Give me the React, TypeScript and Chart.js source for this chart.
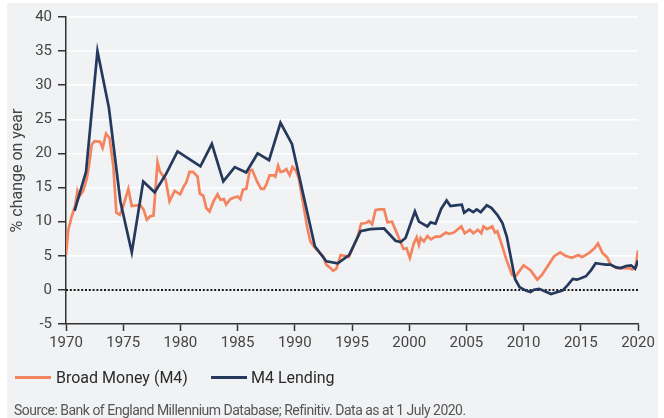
import { useEffect, useRef } from "react";
import { Chart, registerables } from "chart.js";

Chart.register(...registerables);

const FONT = 'Roboto, "Noto Sans", "Liberation Sans", sans-serif';

const seriesNames = ["Broad Money (M4)", "M4 Lending"];

const moneyYears = [
  1970.0, 1970.2, 1970.5, 1970.8, 1971.0, 1971.17, 1971.5, 1971.8, 1972.0, 1972.25,
  1972.5, 1972.98, 1973.2, 1973.5, 1973.8, 1974.14, 1974.4, 1974.7, 1975.0, 1975.45,
  1975.75, 1976.2, 1976.5, 1976.77, 1977.07, 1977.36, 1977.65, 1978.0, 1978.2, 1978.7,
  1979.05, 1979.5, 1979.98, 1980.27, 1980.5, 1980.8, 1981.1, 1981.5, 1981.7, 1982.0,
  1982.26, 1982.55, 1982.9, 1983.25, 1983.5, 1983.8, 1984.0, 1984.36, 1984.65, 1985.0,
  1985.24, 1985.47, 1985.76, 1986.06, 1986.27, 1986.7, 1987.05, 1987.3, 1987.5, 1987.8,
  1988.15, 1988.3, 1988.54, 1988.74, 1989.03, 1989.26, 1989.55, 1989.8, 1990.1, 1990.34,
  1990.7, 1991.07, 1991.36, 1991.8, 1992.2, 1992.5, 1992.75, 1993.05, 1993.35, 1993.64,
  1994.0, 1994.34, 1994.72, 1995.0, 1995.45, 1995.8, 1996.2, 1996.47, 1996.76, 1997.05,
  1997.35, 1997.8, 1998.1, 1998.5, 1998.8, 1999.1, 1999.5, 1999.77, 2000.06, 2000.4,
  2000.65, 2000.85, 2001.0, 2001.28, 2001.6, 2001.9, 2002.3, 2002.7, 2003.2, 2003.5,
  2003.9, 2004.56, 2004.85, 2005.3, 2005.6, 2006.0, 2006.3, 2006.5, 2006.8, 2007.25,
  2007.5, 2007.7, 2008.1, 2008.5, 2009.0, 2009.3, 2010.0, 2010.6, 2011.2, 2011.6,
  2012.07, 2012.65, 2013.2, 2013.65, 2014.2, 2014.8, 2015.1, 2015.7, 2016.2, 2016.5,
  2016.9, 2017.3, 2017.6, 2018.2, 2018.8, 2019.2, 2019.5, 2019.8, 2020.0,
];
const moneyValues = [
  5.1, 8.8, 10.8, 12.3, 14.5, 13.7, 14.5, 16.2, 18.1, 21.3,
  21.8, 21.7, 20.8, 22.9, 22.3, 18.1, 11.3, 11.0, 12.3, 14.8,
  12.3, 12.4, 12.4, 11.8, 10.3, 10.8, 10.9, 18.7, 17.4, 16.2,
  13.0, 14.5, 14.0, 15.1, 15.7, 17.3, 17.3, 16.6, 14.1, 13.8,
  12.0, 11.5, 13.0, 14.0, 13.2, 13.3, 12.5, 13.3, 13.5, 13.7,
  13.3, 14.7, 14.8, 17.5, 17.6, 15.9, 14.8, 14.8, 15.4, 16.8,
  16.8, 16.6, 18.2, 17.3, 17.4, 17.7, 16.8, 18.0, 17.5, 16.4,
  13.0, 9.3, 7.1, 6.1, 5.4, 4.9, 3.7, 3.3, 2.8, 3.1,
  5.1, 5.0, 4.8, 5.9, 7.6, 9.7, 9.8, 10.1, 9.6, 11.7,
  11.8, 11.8, 9.9, 10.0, 8.8, 7.6, 6.0, 6.1, 4.7, 6.8,
  7.7, 6.6, 7.6, 7.1, 7.9, 7.4, 7.8, 7.8, 8.4, 8.2,
  8.4, 9.3, 8.3, 8.8, 8.3, 8.8, 8.3, 9.3, 8.9, 9.3,
  8.4, 8.6, 6.6, 4.4, 2.2, 2.0, 3.6, 2.9, 1.5, 2.2,
  3.4, 4.9, 5.5, 5.0, 4.7, 5.1, 4.8, 5.4, 6.1, 6.8,
  5.4, 4.8, 3.7, 3.2, 3.2, 3.2, 3.0, 3.4, 5.8,
];

const lendingYears = [
  1970.75, 1971.75, 1972.75, 1973.75, 1974.75, 1975.75, 1976.75, 1977.75, 1978.75, 1979.75,
  1980.75, 1981.75, 1982.75, 1983.75, 1984.75, 1985.75, 1986.75, 1987.75, 1988.75, 1989.75,
  1990.75, 1991.75, 1992.75, 1993.75, 1994.75, 1995.75, 1996.6, 1997.8, 1998.8, 1999.25,
  1999.68, 2000.5, 2000.85, 2001.59, 2001.87, 2002.3, 2002.8, 2003.27, 2003.6, 2004.06,
  2004.6, 2004.8, 2005.2, 2005.6, 2005.9, 2006.25, 2006.78, 2007.2, 2007.7, 2008.15,
  2008.53, 2008.88, 2009.25, 2009.65, 2010.2, 2010.6, 2010.9, 2011.36, 2011.8, 2012.4,
  2012.97, 2013.4, 2013.85, 2014.3, 2014.66, 2015.0, 2015.45, 2015.9, 2016.3, 2016.77,
  2017.2, 2017.6, 2018.07, 2018.5, 2018.95, 2019.4, 2019.75, 2020.0,
];
const lendingValues = [
  11.6, 17.3, 35.0, 26.7, 13.0, 5.5, 15.9, 14.3, 17.0, 20.3,
  19.2, 18.1, 21.4, 15.9, 18.0, 17.2, 20.0, 19.0, 24.5, 21.4,
  13.9, 6.4, 4.2, 3.9, 5.1, 8.6, 8.9, 9.0, 7.2, 7.0,
  7.6, 11.5, 10.0, 9.3, 9.9, 9.7, 11.9, 13.1, 12.3, 12.4,
  12.5, 11.3, 11.8, 11.4, 11.8, 11.4, 12.4, 12.0, 11.0, 9.8,
  7.8, 4.8, 1.6, 0.4, -0.1, -0.3, 0.0, 0.15, -0.15, -0.6,
  -0.3, -0.1, 0.7, 1.6, 1.5, 1.7, 2.0, 2.9, 3.9, 3.8,
  3.7, 3.7, 3.3, 3.2, 3.5, 3.6, 3.1, 4.3,
];

const xMin = 1970;
const xMax = 2020;
const xStep = 5;
const yMin = -5;
const yMax = 40;
const yStep = 5;
const yTitle = "% change on year";
const sourceText = "Source: Bank of England Millennium Database; Refinitiv. Data as at 1 July 2020.";

const ORANGE = "#f4845f";
const NAVY = "#24395c";

export default function App() {
  const ref = useRef<HTMLCanvasElement>(null);

  useEffect(() => {
    const canvas = ref.current;
    if (!canvas) return;
    const zeroLine = {
      id: "zeroLine",
      beforeDatasetsDraw(chart: any) {
        const { ctx, chartArea, scales } = chart;
        const y = Math.round(scales.y.getPixelForValue(0));
        ctx.save();
        ctx.strokeStyle = "#1a1a1a";
        ctx.lineWidth = 2;
        ctx.setLineDash([2, 1.8]);
        ctx.beginPath();
        ctx.moveTo(chartArea.left, y);
        ctx.lineTo(chartArea.right, y);
        ctx.stroke();
        ctx.restore();
      },
    };
    const chart = new Chart(canvas, {
      type: "line",
      data: {
        datasets: [
          {
            label: seriesNames[0],
            data: moneyYears.map((x, i) => ({ x, y: moneyValues[i] })),
            borderColor: ORANGE,
            backgroundColor: ORANGE,
            borderWidth: 2.7,
            pointRadius: 0,
            tension: 0,
            order: 1,
          },
          {
            label: seriesNames[1],
            data: lendingYears.map((x, i) => ({ x, y: lendingValues[i] })),
            borderColor: NAVY,
            backgroundColor: NAVY,
            borderWidth: 2.7,
            pointRadius: 0,
            tension: 0,
            order: 0,
          },
        ],
      },
      options: {
        animation: false,
        responsive: false,
        maintainAspectRatio: false,
        layout: { padding: { left: 0, top: 17, right: 26, bottom: 64 } },
        plugins: {
          legend: { display: false },
          tooltip: { enabled: false },
        },
        scales: {
          x: {
            type: "linear",
            min: xMin,
            max: xMax,
            afterFit: (s: any) => {
              s.height = 30;
            },
            ticks: {
              stepSize: xStep,
              padding: 3,
              color: "#444",
              font: { family: FONT, size: 15 },
              maxRotation: 0,
              callback: (v: any) => String(v),
            },
            grid: {
              drawOnChartArea: false,
              drawTicks: true,
              tickLength: 7,
              tickColor: "#333",
              tickWidth: 1.5,
            },
            border: { color: "#333", width: 1.5 },
          },
          y: {
            min: yMin,
            max: yMax,
            afterFit: (s: any) => {
              s.width = 66;
            },
            ticks: {
              stepSize: yStep,
              padding: 6,
              color: "#444",
              font: { family: FONT, size: 15 },
            },
            grid: {
              color: (c: any) =>
                c.tick && (c.tick.value === 0 || c.tick.value === yMin) ? "rgba(0,0,0,0)" : "#ffffff",
              lineWidth: 1.5,
              drawTicks: true,
              tickLength: 8,
              tickColor: "#333",
              tickWidth: 1.5,
            },
            border: { color: "#333", width: 1.5 },
            title: {
              display: true,
              text: yTitle,
              color: "#444",
              font: { family: FONT, size: 16 },
              padding: { top: 8, bottom: 0 },
            },
          },
        },
      },
      plugins: [zeroLine],
    });
    return () => chart.destroy();
  }, []);

  const legendText = {
    position: "absolute" as const,
    top: 368,
    fontFamily: FONT,
    fontSize: 16,
    lineHeight: "19px",
    color: "#2b2b2b",
    whiteSpace: "nowrap" as const,
  };

  return (
    <div style={{ position: "absolute", left: 0, top: 0, width: 664, height: 418, background: "#ffffff", overflow: "hidden" }}>
      <div style={{ position: "absolute", left: 7, top: 3, width: 651, height: 415, background: "#f1f2f4" }} />
      <canvas ref={ref} width={664} height={418} style={{ position: "absolute", left: 0, top: 0, width: 664, height: 418 }} />
      <div style={{ position: "absolute", left: 15, top: 376, width: 36, height: 3, background: ORANGE }} />
      <div style={{ ...legendText, left: 56 }}>{seriesNames[0]}</div>
      <div style={{ position: "absolute", left: 211, top: 376, width: 36, height: 3, background: NAVY }} />
      <div style={{ ...legendText, left: 251 }}>{seriesNames[1]}</div>
      <div
        style={{
          position: "absolute",
          left: 14,
          top: 402,
          fontFamily: FONT,
          fontSize: 14,
          lineHeight: "16px",
          letterSpacing: "-0.5px",
          color: "#555",
          whiteSpace: "nowrap",
        }}
      >
        {sourceText}
      </div>
    </div>
  );
}
